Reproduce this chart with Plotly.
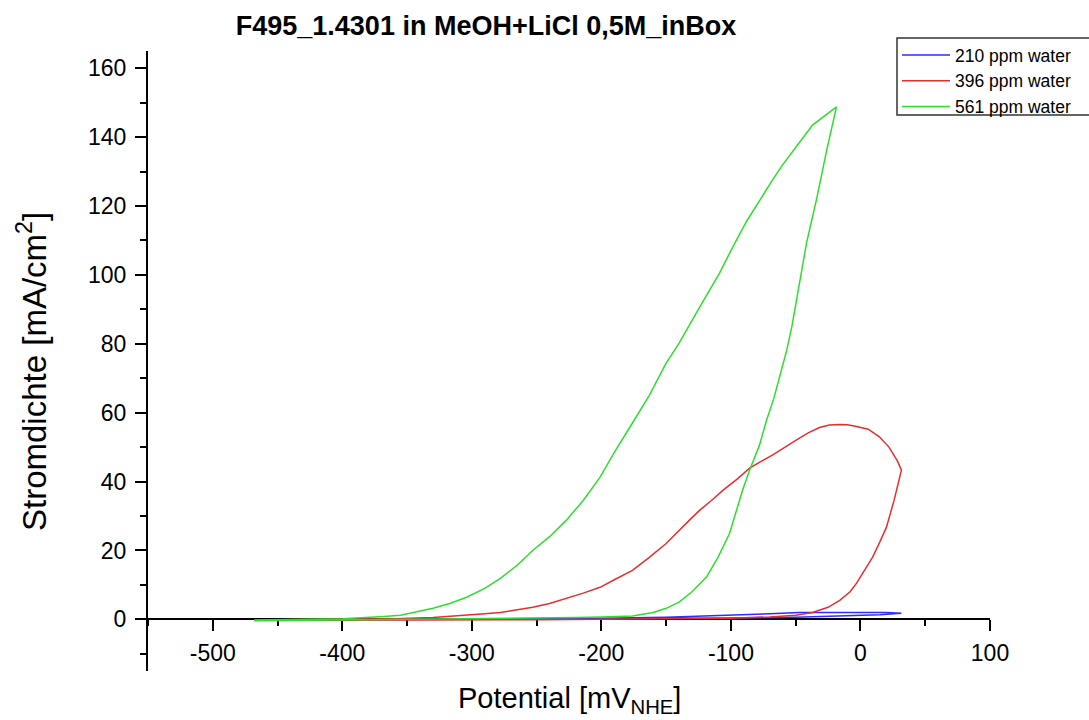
import plotly.graph_objects as go

# ---- data ----
series_names = ["210 ppm water", "396 ppm water", "561 ppm water"]
series_colors = ["rgb(45,45,255)", "rgb(232,45,45)", "rgb(45,222,45)"]

# 210 ppm water: forward scan then reverse scan
blue_x = [-468, -400, -300, -200, -150, -100, -50, 0, 15, 31.6,
          20, 0, -30, -47, -70, -99, -125, -150, -200, -250, -300, -400, -468]
blue_y = [-0.3, -0.2, -0.1, 0.1, 0.2, 0.4, 0.6, 1.0, 1.3, 1.8,
          2.0, 2.0, 2.1, 2.0, 1.6, 1.2, 0.9, 0.6, 0.3, 0.1, 0.0, -0.1, -0.2]

# 396 ppm water
red_x = [-468, -430, -400, -350, -300, -250, -200, -150, -100, -70, -50, -37, -25, -16, -8, -3, 3, 9.3, 15, 20, 26, 29, 31.6,
         28.5, 22, 14.6, 6, -3, -10, -16, -24, -31.6, -40, -49, -58, -68, -77, -85.6, -95, -106, -115, -124, -132, -140,
         -150, -163, -176, -190, -201, -214, -227, -240, -253, -265, -278, -290, -304, -330, -360, -400, -468]
red_y = [-0.3, -0.3, -0.3, -0.2, -0.2, -0.1, 0.0, 0.1, 0.3, 0.7, 1.2, 2.0, 3.5, 5.5, 8.0, 10.5, 14.0, 18.0, 22.5, 26.7, 34.6, 39.0, 43.3,
         46.0, 50.0, 53.0, 55.2, 56.0, 56.5, 56.6, 56.4, 55.7, 54.2, 52.2, 50.0, 47.7, 45.8, 43.9, 40.8, 37.5, 34.5, 31.7, 28.8, 25.8,
         22.0, 18.0, 14.2, 11.5, 9.3, 7.6, 6.1, 4.6, 3.5, 2.7, 2.0, 1.6, 1.2, 0.5, 0.2, 0.0, -0.2]

# 561 ppm water
green_x = [-468, -440, -400, -350, -300, -250, -220, -200, -176, -160, -150, -140, -130, -119, -110, -101, -91, -85.6, -78,
           -72.5, -67, -62.5, -57, -53, -47, -41.6, -34, -26, -18.5,
           -25, -37, -49, -60, -68, -76, -88, -98, -108.7, -124, -140, -150, -163, -176, -190, -201, -214, -227, -240,
           -253, -265, -278, -290, -304, -317, -330, -342, -355, -368, -381, -400, -430, -468]
green_y = [-0.4, -0.3, -0.2, 0.0, 0.1, 0.3, 0.5, 0.7, 1.0, 2.0, 3.2, 5.0, 8.0, 12.2, 18.0, 25.0, 37.5, 43.3, 50.5,
           57.8, 64.0, 70.3, 78.0, 84.9, 97.7, 109.3, 121.8, 136.3, 148.8,
           147.0, 143.5, 137.5, 132.0, 127.5, 122.8, 115.5, 108.5, 100.6, 90.7, 80.2, 74.4, 65.0, 57.0, 48.5, 41.3, 34.5, 28.8, 24.0,
           20.0, 15.7, 11.9, 9.0, 6.4, 4.6, 3.2, 2.2, 1.2, 0.8, 0.5, 0.2, 0.0, -0.2]

x_range = [-550, 100]
y_range = [-15, 165]
x_tick_vals = [-500, -400, -300, -200, -100, 0, 100]
x_tick_text = ["-500", "-400", "-300", "-200", "-100", "0", "100"]
y_tick_vals = [0, 20, 40, 60, 80, 100, 120, 140, 160]
y_tick_text = ["0", "20", "40", "60", "80", "100", "120", "140", "160"]

title_text = "F495_1.4301 in MeOH+LiCl 0,5M_inBox"
x_title = "Potential [mV<sub>NHE</sub>]"
y_title = "Stromdichte [mA/cm<sup>2</sup>]"

FONT = "Arial, Liberation Sans, sans-serif"

# plot-area geometry in pixels (used for placing decorations)
PL, PR, PT, PB = 148, 990, 51, 671
PW, PH = PR - PL, PB - PT


def px_x(px):
    return (px - PL) / PW


def px_y(py):
    return (PB - py) / PH


fig = go.Figure()
for name, color, xs, ys in zip(series_names, series_colors,
                               [blue_x, red_x, green_x], [blue_y, red_y, green_y]):
    fig.add_trace(go.Scatter(x=xs, y=ys, mode="lines", name=name,
                             line=dict(color=color, width=1.5)))

x_axis_pos = (0 - y_range[0]) / (y_range[1] - y_range[0])

fig.update_layout(
    width=1089, height=720,
    margin=dict(l=PL, r=1089 - PR, t=PT, b=720 - PB, autoexpand=False),
    paper_bgcolor="white", plot_bgcolor="white",
    font=dict(family=FONT, color="black"),
    showlegend=True,
    title=dict(text=title_text, x=486 / 1089, xref="container", xanchor="center",
               y=1 - 26 / 720, yref="container", yanchor="middle",
               font=dict(family=FONT, size=27, color="black", weight="bold")),
    legend=dict(x=px_x(897), y=px_y(37), xanchor="left", yanchor="top",
                borderwidth=0, bgcolor="rgba(0,0,0,0)",
                font=dict(family=FONT, size=17.5, color="black"),
                itemwidth=48, tracegroupgap=0),
    xaxis=dict(range=x_range, anchor="free", position=x_axis_pos,
               showgrid=False, zeroline=False, showline=True, linecolor="black", linewidth=2,
               ticks="outside", ticklen=11, tickwidth=2, tickcolor="black",
               tickmode="array", tickvals=x_tick_vals, ticktext=x_tick_text,
               tickfont=dict(family=FONT, size=23, color="black"),
               ticklabelstandoff=2,
               minor=dict(ticks="outside", ticklen=6, tickwidth=2, tickcolor="black",
                          tick0=0, dtick=50),
               layer="below traces"),
    yaxis=dict(range=y_range, showgrid=False, zeroline=False, showline=True,
               linecolor="black", linewidth=2,
               ticks="outside", ticklen=11, tickwidth=2, tickcolor="black",
               tickmode="array", tickvals=y_tick_vals, ticktext=y_tick_text,
               tickfont=dict(family=FONT, size=23, color="black"),
               ticklabelstandoff=4,
               minor=dict(ticks="outside", ticklen=6, tickwidth=2, tickcolor="black",
                          tick0=0, dtick=10),
               layer="below traces"),
    shapes=[
        dict(type="rect", xref="paper", yref="paper",
             x0=px_x(897), x1=px_x(1100), y0=px_y(115), y1=px_y(38),
             line=dict(color="#333333", width=1.5), fillcolor="rgba(0,0,0,0)", layer="above"),
    ],
    annotations=[
        dict(text=x_title, xref="paper", yref="paper", x=0.5, y=px_y(700),
             xanchor="center", yanchor="middle", showarrow=False,
             font=dict(family=FONT, size=29, color="black")),
        dict(text=y_title, xref="paper", yref="paper", x=px_x(32), y=px_y(372),
             xanchor="center", yanchor="middle", textangle=-90, showarrow=False,
             font=dict(family=FONT, size=33, color="black")),
    ],
)

fig.write_html("out.html", config={"displayModeBar": False},
               post_script="document.body.style.margin='0';document.body.style.overflow='hidden';")
